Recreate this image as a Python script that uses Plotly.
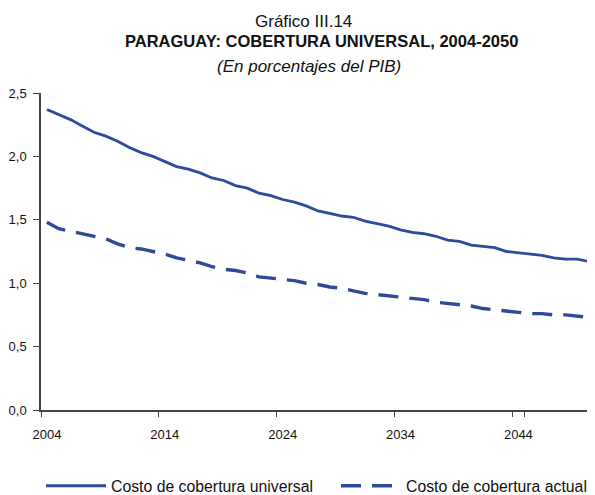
import plotly.graph_objects as go

# Data
years = [str(y) for y in range(2004, 2051)]
costo_universal = [
    2.37, 2.33, 2.29, 2.24, 2.19, 2.16, 2.12, 2.07, 2.03, 2.00,
    1.96, 1.92, 1.90, 1.87, 1.83, 1.81, 1.77, 1.75, 1.71, 1.69,
    1.66, 1.64, 1.61, 1.57, 1.55, 1.53, 1.52, 1.49, 1.47, 1.45,
    1.42, 1.40, 1.39, 1.37, 1.34, 1.33, 1.30, 1.29, 1.28, 1.25,
    1.24, 1.23, 1.22, 1.20, 1.19, 1.19, 1.17,
]
costo_actual = [
    1.48, 1.43, 1.41, 1.39, 1.37, 1.35, 1.31, 1.28, 1.27, 1.25,
    1.23, 1.20, 1.18, 1.16, 1.13, 1.11, 1.10, 1.08, 1.05, 1.04,
    1.03, 1.02, 1.00, 0.99, 0.97, 0.96, 0.94, 0.92, 0.91, 0.90,
    0.89, 0.88, 0.87, 0.85, 0.84, 0.83, 0.82, 0.80, 0.79, 0.78,
    0.77, 0.76, 0.76, 0.75, 0.75, 0.74, 0.73,
]
x_ticks = ["2004", "2014", "2024", "2034", "2044"]
y_ticks = [0, 0.5, 1.0, 1.5, 2.0, 2.5]
y_labels = ["0,0", "0,5", "1,0", "1,5", "2,0", "2,5"]

BLUE = "#2f4a9a"
AXIS = "#444444"
FONT = "Liberation Sans, Arial, sans-serif"

# the page body has an 8px margin, so the figure is sized to end at the window edge
OFF = 8
W, H = 595 - OFF, 495 - OFF
L, R, T, B = 41 - OFF, 0, 93 - OFF, 85
pw, ph = W - L - R, H - T - B


def px_to_paper(x, y):
    # page pixel position -> paper coordinates
    return (x - OFF - L) / pw, (H - B - (y - OFF)) / ph


fig = go.Figure()
fig.add_trace(go.Scatter(
    x=years, y=costo_universal, mode="lines",
    name="Costo de cobertura universal",
    line=dict(color=BLUE, width=2.8), legend="legend",
))
fig.add_trace(go.Scatter(
    x=years, y=costo_actual, mode="lines",
    name="Costo de cobertura actual",
    line=dict(color=BLUE, width=3.4, dash="20px,11px"), legend="legend2",
))

# titles
titles = [
    ("Gráfico III.14", 303, 21, 17),
    ("<b>PARAGUAY: COBERTURA UNIVERSAL, 2004-2050</b>", 321, 41, 16.5),
    ("<i>(En porcentajes del PIB)</i>", 309, 66, 17),
]
for text, tx, ty, size in titles:
    ax, ay = px_to_paper(tx, ty)
    fig.add_annotation(
        text=text, x=ax, y=ay, xref="paper", yref="paper", showarrow=False,
        xanchor="center", yanchor="middle",
        font=dict(size=size, color="#111111", family=FONT),
    )

# one legend per series so each entry sits where the reference has it
legend_style = dict(orientation="h", xref="container", yref="container",
                    xanchor="left", yanchor="middle", y=1 - (486 - OFF) / H,
                    font=dict(size=15.8), itemwidth=60)

fig.update_layout(
    width=W, height=H,
    margin=dict(l=L, r=R, t=T, b=B),
    paper_bgcolor="white", plot_bgcolor="white",
    font=dict(family=FONT, size=13, color="#111111"),
    showlegend=True,
    legend=dict(legend_style, x=(41 - OFF) / W),
    legend2=dict(legend_style, x=(336 - OFF) / W),
    xaxis=dict(
        type="category", tickmode="array", tickvals=x_ticks, ticktext=x_ticks,
        tickson="boundaries", ticks="outside", ticklen=5, tickcolor=AXIS,
        tickangle=0, ticklabelstandoff=12,
        showline=True, linecolor=AXIS, linewidth=1.5, showgrid=False,
        range=[-0.5, len(years) - 0.5], zeroline=False,
    ),
    yaxis=dict(
        range=[0, 2.5], tickmode="array", tickvals=y_ticks, ticktext=y_labels,
        ticks="outside", ticklen=6, tickcolor=AXIS, ticklabelstandoff=4,
        showline=True, linecolor=AXIS, linewidth=1.5, showgrid=False, zeroline=False,
    ),
)

fig.write_html("out.html")
